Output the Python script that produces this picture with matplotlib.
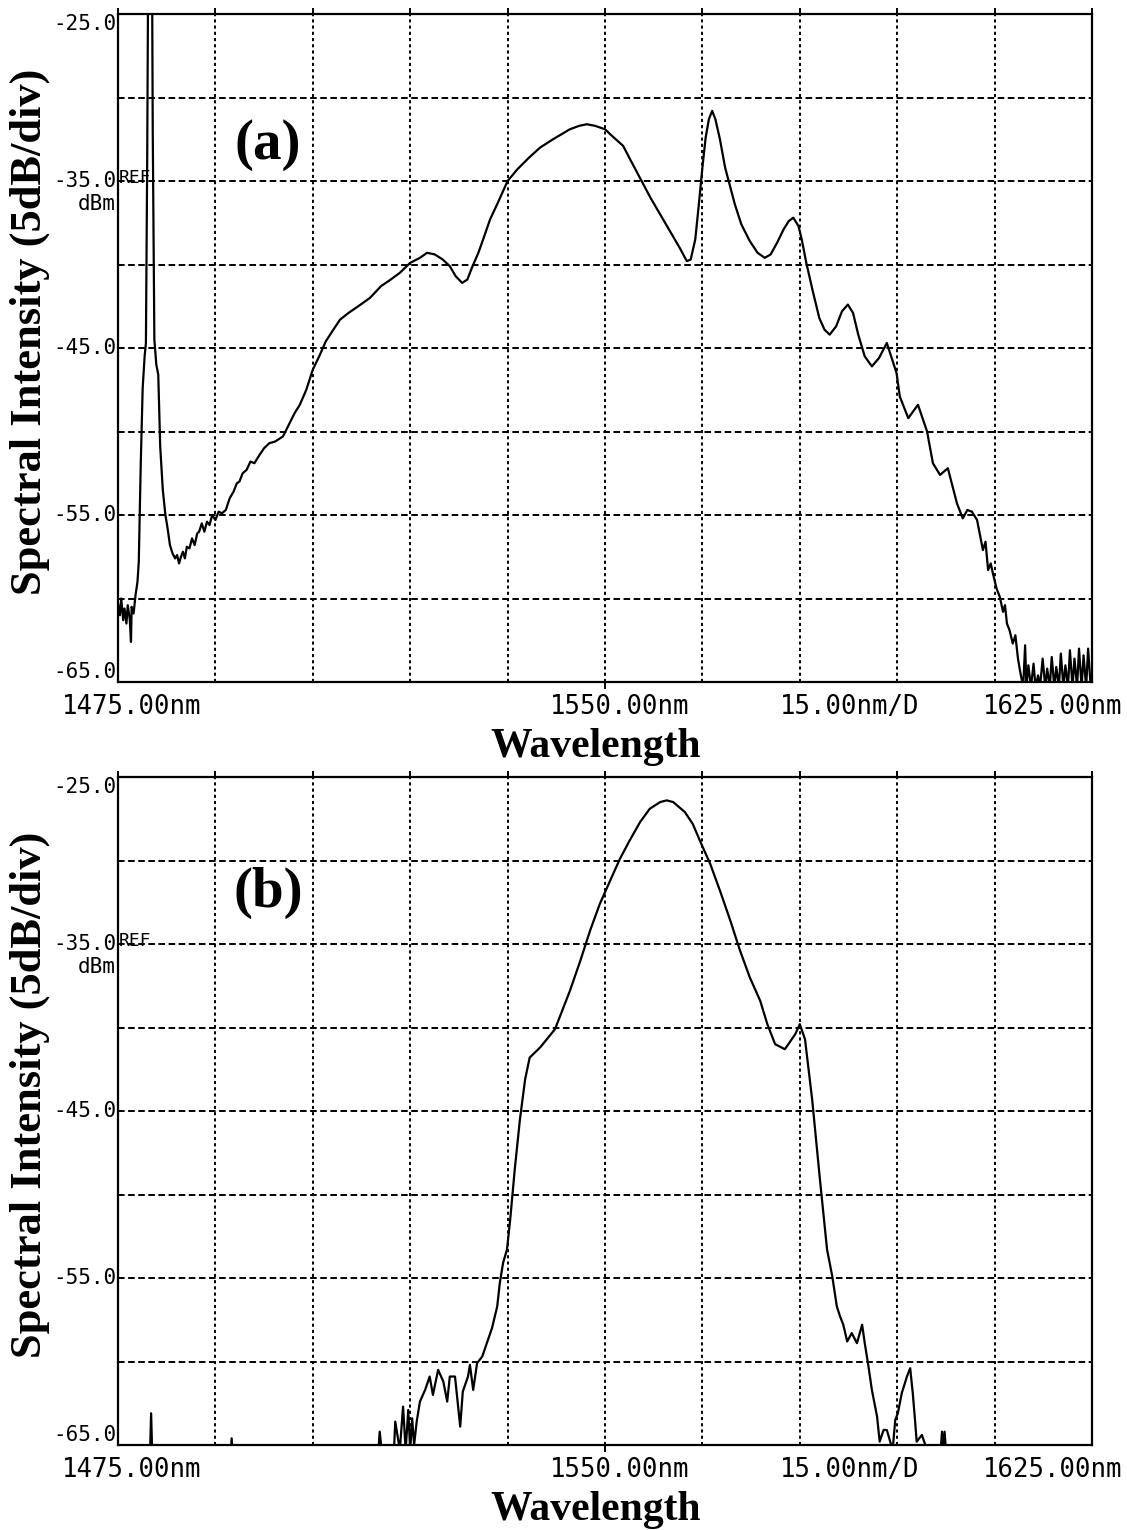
import matplotlib
matplotlib.use("Agg")
import matplotlib.pyplot as plt

# ---------------- data ----------------
# Panel (a): wavelength [nm], power [dBm]
wl_a = [1475.0, 1475.3, 1475.5, 1475.8, 1476.0, 1476.3, 1476.5, 1476.8, 1477.0, 1477.1,
        1477.4, 1477.7, 1478.0, 1478.2, 1478.5, 1478.8, 1479.1, 1479.3, 1479.5, 1479.7,
        1480.2, 1480.35, 1480.6, 1480.9, 1481.2, 1481.5, 1481.9, 1482.3, 1482.6, 1483.0,
        1483.4, 1483.8, 1484.1, 1484.4, 1484.7, 1485.0, 1485.3, 1485.6, 1486.0, 1486.4,
        1486.8, 1487.2, 1487.5, 1487.9, 1488.3, 1488.7, 1489.1, 1489.5, 1490.0, 1490.5,
        1491.0, 1491.6, 1492.2, 1492.8, 1493.3, 1493.7, 1494.2, 1494.8, 1495.4, 1496.0,
        1496.8, 1497.5, 1498.3, 1499.2, 1500.4, 1501.3, 1502.2, 1503.0, 1504.0, 1505.0,
        1506.1, 1507.0, 1508.0, 1509.2, 1510.5, 1512.0, 1513.8, 1515.5, 1517.0, 1518.4,
        1520.0, 1521.5, 1522.6, 1523.8, 1525.0, 1526.1, 1527.0, 1528.0, 1528.8, 1529.5,
        1530.5, 1531.5, 1532.3, 1533.5, 1535.0, 1536.5, 1538.3, 1540.0, 1542.0, 1544.6,
        1546.0, 1547.2, 1548.5, 1550.0, 1550.8, 1552.8, 1554.0, 1555.5, 1557.0, 1558.5,
        1560.0, 1561.5, 1562.6, 1563.2, 1563.9, 1564.4, 1565.0, 1565.5, 1566.0, 1566.5,
        1567.0, 1567.7, 1568.5, 1570.0, 1571.0, 1572.3, 1573.5, 1574.6, 1575.5, 1576.5,
        1577.5, 1578.3, 1579.0, 1579.8, 1580.3, 1581.0, 1582.0, 1583.0, 1583.8, 1584.6,
        1585.6, 1586.5, 1587.4, 1588.2, 1589.0, 1590.0, 1591.1, 1592.2, 1593.4, 1594.9,
        1595.4, 1596.7, 1598.2, 1599.6, 1600.5, 1601.6, 1602.8, 1604.2, 1605.1, 1605.8,
        1606.5, 1607.3, 1608.2, 1608.6, 1609.0, 1609.4, 1609.8, 1610.3, 1610.8, 1611.3,
        1611.6, 1611.9, 1612.3, 1612.8, 1613.2, 1613.6, 1613.9, 1614.4, 1614.7, 1614.9,
        1615.2, 1615.6, 1616.0, 1616.3, 1616.7, 1617.0, 1617.4, 1617.8, 1618.1, 1618.5,
        1618.8, 1619.2, 1619.5, 1619.9, 1620.2, 1620.6, 1620.9, 1621.3, 1621.6, 1622.0,
        1622.3, 1622.7, 1623.0, 1623.4, 1623.7, 1624.1, 1624.4, 1624.8]
db_a = [-60.3, -61.0, -60.0, -61.3, -60.6, -61.5, -60.4, -61.2, -62.6, -60.5,
        -60.9, -59.8, -59.0, -57.8, -52.0, -47.4, -45.5, -44.7, -33.5, -18.0,
        -18.0, -32.0, -44.5, -46.0, -46.6, -50.9, -53.5, -55.0, -55.7, -56.8,
        -57.3, -57.6, -57.4, -57.9, -57.5, -57.2, -57.6, -56.9, -57.0, -56.4,
        -56.8, -56.1, -56.0, -55.5, -56.0, -55.4, -55.6, -55.0, -55.3, -54.8,
        -54.9, -54.7, -54.0, -53.6, -53.1, -53.0, -52.5, -52.3, -51.8, -51.9,
        -51.4, -51.0, -50.7, -50.6, -50.3, -49.6, -48.9, -48.4, -47.5, -46.3,
        -45.4, -44.6, -44.0, -43.3, -42.9, -42.5, -42.0, -41.3, -40.9, -40.5,
        -39.9, -39.6, -39.3, -39.4, -39.7, -40.1, -40.7, -41.1, -40.9, -40.2,
        -39.3, -38.2, -37.3, -36.3, -35.0, -34.3, -33.6, -33.0, -32.5, -31.9,
        -31.7, -31.6, -31.7, -31.9, -32.2, -32.9, -33.8, -34.9, -36.0, -37.0,
        -38.0, -39.0, -39.8, -39.7, -38.5, -36.6, -34.2, -32.4, -31.3, -30.8,
        -31.3, -32.5, -34.2, -36.4, -37.6, -38.6, -39.3, -39.6, -39.4, -38.7,
        -37.9, -37.4, -37.2, -37.7, -38.5, -39.9, -41.6, -43.2, -43.9, -44.2,
        -43.7, -42.8, -42.4, -42.9, -44.2, -45.5, -46.1, -45.6, -44.7, -46.5,
        -47.9, -49.2, -48.4, -50.0, -51.9, -52.6, -52.2, -54.3, -55.2, -54.7,
        -54.8, -55.3, -57.1, -56.6, -58.3, -57.9, -58.6, -59.4, -59.9, -60.8,
        -60.4, -61.5, -61.9, -62.7, -62.2, -63.6, -64.3, -65.3, -62.8, -65.3,
        -64.0, -65.3, -63.9, -65.3, -64.6, -65.3, -63.6, -65.3, -64.2, -65.3,
        -63.5, -65.3, -64.1, -65.3, -63.3, -65.3, -64.0, -65.3, -63.1, -65.3,
        -63.6, -65.3, -63.0, -65.3, -63.4, -65.3, -63.0, -65.3]

# Panel (b)
wl_b = [1475.0, 1479.9, 1480.1, 1480.3, 1492.3, 1492.5, 1492.7, 1515.0, 1515.3, 1515.6,
        1517.5, 1517.7, 1518.4, 1518.9, 1519.3, 1519.7, 1520.0, 1520.3, 1520.6, 1521.0,
        1521.5, 1522.3, 1523.0, 1523.5, 1524.3, 1525.1, 1525.7, 1526.1, 1526.9, 1527.7,
        1528.1, 1528.9, 1529.2, 1529.7, 1530.3, 1531.1, 1531.8, 1532.6, 1533.4, 1533.8,
        1534.3, 1534.9, 1535.4, 1536.1, 1536.9, 1537.7, 1538.4, 1540.0, 1542.3, 1544.6,
        1546.2, 1547.7, 1549.2, 1550.8, 1552.3, 1553.8, 1555.4, 1556.9, 1558.5, 1559.5,
        1560.5, 1562.3, 1563.5, 1564.6, 1566.2, 1567.7, 1569.3, 1570.8, 1572.3, 1573.9,
        1575.0, 1576.2, 1577.7, 1579.3, 1580.0, 1580.8, 1581.9, 1583.1, 1584.2,
        1585.0, 1585.7, 1586.2, 1586.7, 1587.3, 1588.0, 1588.8, 1589.6, 1590.0, 1590.5,
        1591.1, 1591.9, 1592.3, 1592.9, 1593.4, 1594.3, 1594.7, 1595.1, 1595.7, 1596.5,
        1597.0, 1597.4, 1597.7, 1598.0, 1598.8, 1599.6, 1601.7, 1601.9, 1602.1, 1602.3,
        1602.5, 1602.7, 1625.0]
db_b = [-66.0, -66.0, -63.1, -66.0, -66.0, -64.6, -66.0, -66.0, -64.2, -65.3,
        -65.3, -63.6, -65.3, -62.7, -65.3, -62.9, -65.3, -63.4, -65.0, -63.6,
        -62.4, -61.7, -60.9, -62.0, -60.5, -61.2, -62.4, -60.9, -60.9, -63.9,
        -61.8, -60.9, -60.2, -61.7, -60.1, -59.7, -58.9, -58.0, -56.7, -55.3,
        -54.1, -53.3, -51.5, -48.5, -45.5, -43.1, -41.8, -41.2, -40.1, -37.8,
        -36.0, -34.2, -32.6, -31.2, -29.9, -28.8, -27.7, -26.9, -26.5, -26.4,
        -26.5, -27.1, -27.8, -28.8, -30.2, -31.8, -33.6, -35.4, -37.0, -38.4,
        -39.8, -41.0, -41.3, -40.4, -39.8, -40.7, -44.3, -49.1, -53.3,
        -54.9, -56.7, -57.3, -57.8, -58.8, -58.3, -58.9, -57.8, -58.9, -60.1,
        -61.7, -63.3, -64.8, -64.1, -64.1, -65.3, -63.5, -63.1, -61.9, -60.9,
        -60.4, -61.9, -63.3, -64.8, -64.4, -65.3, -65.3, -64.2, -65.3, -64.2,
        -65.3, -65.3, -65.3]

x_min, x_max, x_div = 1475.0, 1625.0, 15.0
y_min, y_max, y_div = -65.0, -25.0, 5.0
y_tick_labels = ["-65.0", "-55.0", "-45.0", "-35.0", "-25.0"]
x_tick_labels = ["1475.00nm", "1550.00nm", "15.00nm/D", "1625.00nm"]
panel_labels = ["(a)", "(b)"]

# ---------------- figure ----------------
W, H = 1127, 1530
fig = plt.figure(figsize=(W / 100, H / 100), dpi=100)

serif = ["Liberation Serif", "DejaVu Serif"]
mono = ["DejaVu Sans Mono"]

ax_left = 118 / W
ax_w = (1092 - 118) / W
ax_h = 668 / H
tops = [14, 777]

datasets = [(wl_a, db_a), (wl_b, db_b)]

for i, (top, (wl, db)) in enumerate(zip(tops, datasets)):
    bottom = 1 - (top + 668) / H
    ax = fig.add_axes([ax_left, bottom, ax_w, ax_h])
    ax.set_xlim(x_min, x_max)
    ax.set_ylim(y_min, y_max)

    # grid
    for k in range(1, 10):
        ax.axvline(x_min + k * x_div, color="black", lw=1.4,
                   linestyle=(0, (1.6, 1.6)), zorder=1)
    for k in range(1, 8):
        ax.axhline(y_min + k * y_div, color="black", lw=1.4,
                   linestyle=(0, (3.4, 1.8)), zorder=1)

    ax.plot(wl, db, color="black", lw=1.6, zorder=3)

    for s in ax.spines.values():
        s.set_linewidth(1.6)
        s.set_color("black")

    ax.set_xticks([x_min + k * x_div for k in range(11)])
    ax.set_yticks([])
    ax.tick_params(axis="x", which="both", bottom=False, top=True,
                   labelbottom=False, direction="out", length=4, width=1.4)
    # single centre tick below the bottom axis
    ax.plot([0.5, 0.5], [0.0, -0.009], transform=ax.transAxes, color="black",
            lw=1.4, clip_on=False)

    # y tick labels
    yl_pos = [(0.012, "bottom"), (0.25, "center"), (0.5, "center"),
              (0.75, "center"), (0.988, "top")]
    for (yf, va), lab in zip(yl_pos, y_tick_labels):
        yy = yf if va == "center" else (0.0 if va == "bottom" else 1.0)
        ax.text(-0.002, yy, lab, transform=ax.transAxes, ha="right", va=va,
                fontsize=15, family=mono, color="black")
    ax.text(0.001, 0.755, "REF", transform=ax.transAxes, ha="left",
            va="center", fontsize=13, family=mono, color="black")
    ax.text(-0.002, 0.716, "dBm", transform=ax.transAxes, ha="right",
            va="center", fontsize=15, family=mono, color="black")

    # x labels
    ax.text(-0.0575, -0.037, x_tick_labels[0], transform=ax.transAxes,
            ha="left", va="center", fontsize=18.5, family=mono)
    ax.text(0.5154, -0.037, x_tick_labels[1], transform=ax.transAxes,
            ha="center", va="center", fontsize=18.5, family=mono)
    ax.text(0.7515, -0.037, x_tick_labels[2], transform=ax.transAxes,
            ha="center", va="center", fontsize=18.5, family=mono)
    ax.text(1.0308, -0.037, x_tick_labels[3], transform=ax.transAxes,
            ha="right", va="center", fontsize=18.5, family=mono)

    ax.text(0.4908, -0.097, "Wavelength", transform=ax.transAxes,
            ha="center", va="center", fontsize=30, family=serif,
            fontweight="bold")

    # panel letter
    py = [145, 893][i]
    ax.text((268 - 118) / 974, 1 - (py - top) / 668, panel_labels[i],
            transform=ax.transAxes, ha="center", va="center", fontsize=41,
            family=serif, fontweight="bold")

    # y axis label
    fig.text(30 / W, 1 - (top + 334 - 16) / H, "Spectral Intensity (5dB/div)",
             rotation=90, ha="center", va="center", fontsize=32, family=serif,
             fontweight="bold")

fig.savefig("out.png", dpi=100, facecolor="white")
